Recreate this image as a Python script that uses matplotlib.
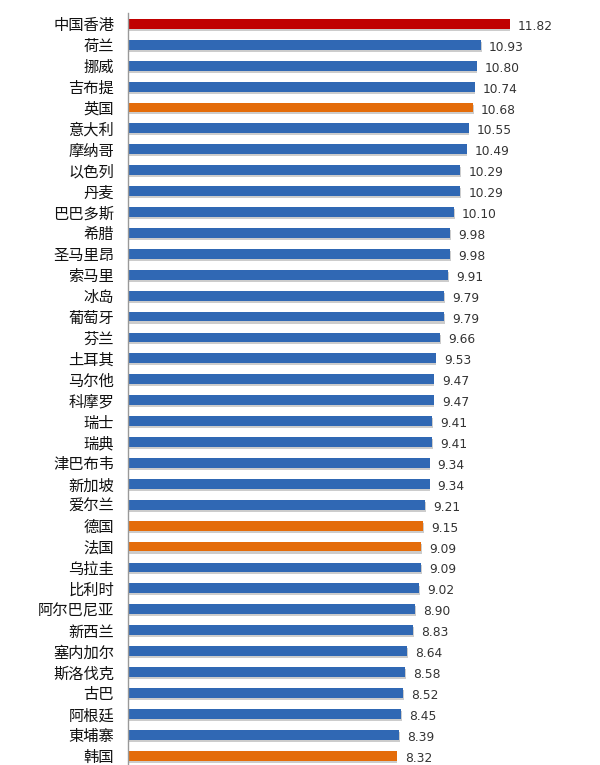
import matplotlib
matplotlib.use("Agg")
import matplotlib.pyplot as plt
import matplotlib.patheffects as pe

plt.rcParams['font.family'] = ['Noto Sans CJK SC', 'DejaVu Sans']

countries = ["中国香港", "荷兰", "挪威", "吉布提", "英国", "意大利", "摩纳哥", "以色列", "丹麦",
             "巴巴多斯", "希腊", "圣马里昂", "索马里", "冰岛", "葡萄牙", "芬兰", "土耳其", "马尔他",
             "科摩罗", "瑞士", "瑞典", "津巴布韦", "新加坡", "爱尔兰", "德国", "法国", "乌拉圭",
             "比利时", "阿尔巴尼亚", "新西兰", "塞内加尔", "斯洛伐克", "古巴", "阿根廷", "東埔寨", "韩国"]
values = [11.82, 10.93, 10.80, 10.74, 10.68, 10.55, 10.49, 10.29, 10.29,
          10.10, 9.98, 9.98, 9.91, 9.79, 9.79, 9.66, 9.53, 9.47,
          9.47, 9.41, 9.41, 9.34, 9.34, 9.21, 9.15, 9.09, 9.09,
          9.02, 8.90, 8.83, 8.64, 8.58, 8.52, 8.45, 8.39, 8.32]
highlight_red = ["中国香港"]
highlight_orange = ["英国", "德国", "法国", "韩国"]

colors = []
for c in countries:
    if c in highlight_red:
        colors.append("#C00000")
    elif c in highlight_orange:
        colors.append("#E46C0A")
    else:
        colors.append("#3068B4")

fig = plt.figure(figsize=(6, 7.65), dpi=100)
ax = fig.add_axes([0.2133, 0.0, 0.748, 0.983])

y = list(range(len(countries)))
bars = ax.barh(y, values, height=0.47, color=colors, edgecolor="none")
for b in bars:
    b.set_path_effects([pe.SimplePatchShadow(offset=(0.5, -1.5), shadow_rgbFace="#aaaaaa", alpha=0.6),
                        pe.Normal()])

for yi, v in zip(y, values):
    ax.text(v + 0.25, yi + 0.12, f"{v:.2f}", va="center", ha="left", fontsize=8.8,
            color="#333333", family=["DejaVu Sans"])

ax.set_xlim(0, 13.9)
ax.set_ylim(35.45, -0.52)
ax.set_yticks(y)
ax.set_yticklabels(countries, fontsize=11.0, color="#111111")
ax.tick_params(axis="y", length=0, pad=10)
ax.set_xticks([])
for s in ["top", "right", "bottom"]:
    ax.spines[s].set_visible(False)
ax.spines["left"].set_color("#999999")
ax.spines["left"].set_linewidth(1.0)

fig.savefig("out.png", dpi=100)
